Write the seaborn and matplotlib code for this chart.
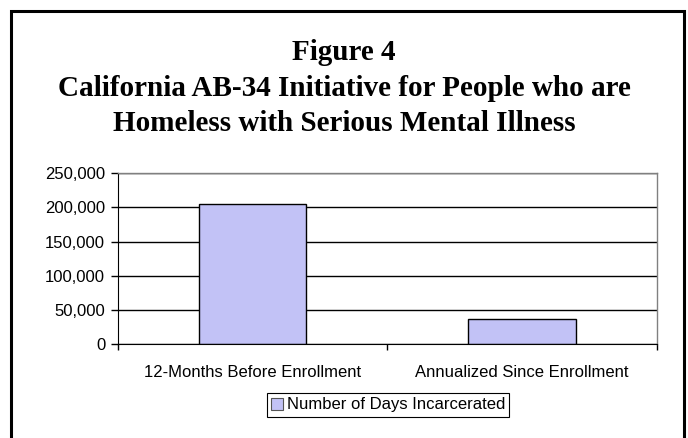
import matplotlib
matplotlib.use("Agg")
import matplotlib.pyplot as plt
import matplotlib.ticker as mticker
from matplotlib.patches import Rectangle
import seaborn as sns
import pandas as pd

title_lines = [
    "Figure 4",
    "California AB-34 Initiative for People who are",
    "Homeless with Serious Mental Illness",
]
categories = ["12-Months Before Enrollment", "Annualized Since Enrollment"]
days_incarcerated = [205000, 37000]
series_name = "Number of Days Incarcerated"
y_ticks = [0, 50000, 100000, 150000, 200000, 250000]

df = pd.DataFrame({"period": categories, "days": days_incarcerated})

sns.set_style("white")
plt.rcParams["font.family"] = ["Liberation Sans", "DejaVu Sans"]
plt.rcParams["text.color"] = "black"
plt.rcParams["xtick.color"] = "black"
plt.rcParams["ytick.color"] = "black"

fig = plt.figure(figsize=(6.88, 4.38), dpi=100)
ax = fig.add_axes([0.171, 0.214, 0.784, 0.391])

bar_color = "#c2c2f6"
sns.barplot(data=df, x="period", y="days", ax=ax, width=0.4, color=bar_color,
            saturation=1, edgecolor="black", linewidth=1.0)

ax.set_xlim(-0.5, 1.5)
ax.set_ylim(0, 250000)
ax.set_yticks(y_ticks)
ax.yaxis.set_major_formatter(mticker.FuncFormatter(lambda v, p: f"{v:,.0f}"))
ax.yaxis.grid(True, color="black", linewidth=1.0)
ax.set_axisbelow(True)
ax.set_xlabel("")
ax.set_ylabel("")

for side in ["top", "right"]:
    ax.spines[side].set_color("#808080")
    ax.spines[side].set_linewidth(1.0)
ax.spines["left"].set_color("black")
ax.spines["bottom"].set_color("black")

ax.tick_params(axis="y", direction="out", length=5, width=1, color="black",
               labelsize=12, pad=4, left=True, labelcolor="black")
ax.tick_params(axis="x", which="major", length=0, labelsize=12, pad=15,
               labelcolor="black")
ax.set_xticks([-0.5, 0.5, 1.5], minor=True)
ax.tick_params(axis="x", which="minor", direction="out", length=4, width=1,
               color="black", bottom=True)

for i, line in enumerate(title_lines):
    fig.text(0.5, [0.881, 0.799, 0.719][i], line, ha="center", va="center",
             fontsize=21, fontweight="bold", color="black",
             family=["Liberation Serif", "DejaVu Serif"])

handle = Rectangle((0, 0), 1, 1, facecolor=bar_color, edgecolor="#555555", linewidth=0.8)
leg = fig.legend([handle], [series_name], loc="center",
                 bbox_to_anchor=(388 / 688, 1 - 405 / 438), fontsize=12, frameon=True,
                 fancybox=False, framealpha=1, edgecolor="black",
                 handlelength=0.7, handleheight=0.7, handletextpad=0.25,
                 borderpad=0.25, borderaxespad=0)
leg.get_frame().set_linewidth(0.8)

# outer frame around the whole chart (open at the bottom edge)
fig.patches.append(Rectangle((11 / 688, -0.05), (684 - 11) / 688, 1.05 - 11 / 438,
                             transform=fig.transFigure, fill=False,
                             edgecolor="black", linewidth=2.2))

fig.savefig("out.png", dpi=100)
